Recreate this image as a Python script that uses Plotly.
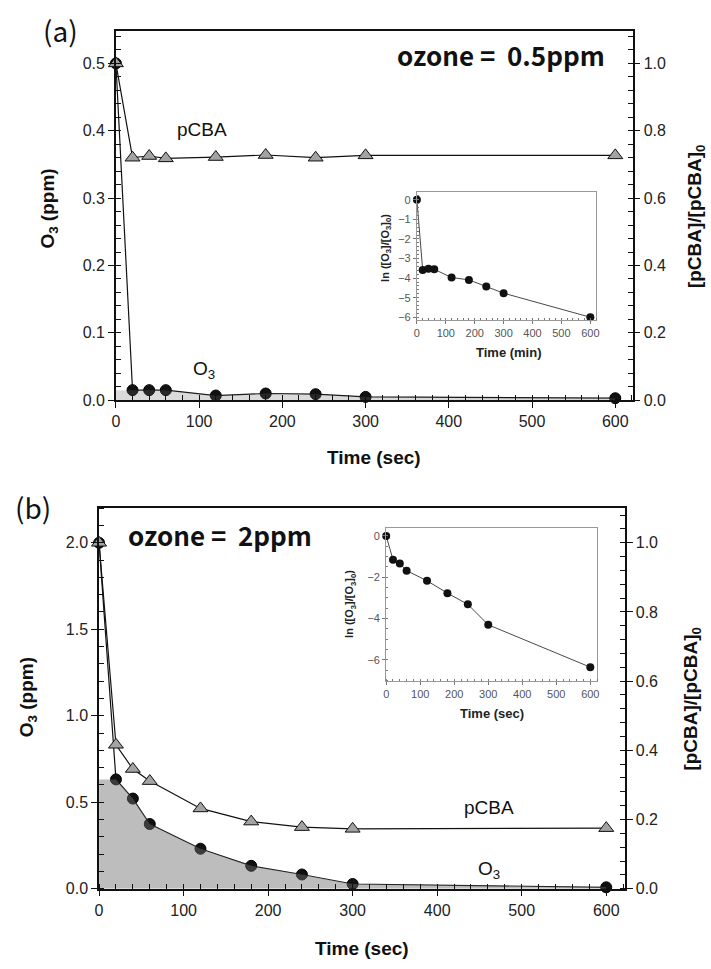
import plotly.graph_objects as go

W, H = 711, 969

# ---------------- data ----------------
times = [0, 20, 40, 60, 120, 180, 240, 300, 600]

a_o3 = [0.5, 0.015, 0.015, 0.015, 0.007, 0.010, 0.009, 0.005, 0.003]
a_pcba = [1.0, 0.72, 0.725, 0.718, 0.722, 0.728, 0.72, 0.727, 0.727]
a_ln = [0, -3.58, -3.52, -3.55, -3.97, -4.09, -4.43, -4.77, -6.0]

b_o3 = [2.0, 0.632, 0.521, 0.374, 0.231, 0.132, 0.082, 0.027, 0.008]
b_pcba = [1.0, 0.416, 0.346, 0.311, 0.232, 0.194, 0.178, 0.173, 0.175]
b_ln = [0, -1.15, -1.34, -1.68, -2.17, -2.77, -3.31, -4.30, -6.35]

x_ticks = [0, 100, 200, 300, 400, 500, 600]


def px(x):
    return x / W


def py(y):
    return 1 - y / H


fig = go.Figure()

TICKFONT = dict(family="Liberation Sans, Arial", size=16, color="#222")
INSET_TICKFONT = dict(family="Liberation Sans, Arial", size=11, color="#555")

tri = dict(symbol="triangle-up", size=13, color="#a3a3a3", line=dict(color="#111", width=1))
circ = dict(symbol="circle", size=11, color="#111", line=dict(color="#000", width=1))
fillcol = "rgba(111,111,111,0.46)"
fillcol_a = "rgba(111,111,111,0.25)"


def main_traces(xa, ya, ya2, o3, pcba, fc):
    # O3 line + markers
    fig.add_trace(go.Scatter(x=times, y=o3, mode="lines+markers", xaxis=xa, yaxis=ya,
                             line=dict(color="#111", width=1.2), marker=circ,
                             cliponaxis=False, showlegend=False))
    # shaded area under O3 (drawn over markers, semi-transparent)
    fx = [times[0]] + times[1:]
    fy = [o3[1]] + o3[1:]
    fig.add_trace(go.Scatter(x=fx, y=fy, mode="none", fill="tozeroy", fillcolor=fc,
                             xaxis=xa, yaxis=ya, showlegend=False))
    # pCBA on right axis
    fig.add_trace(go.Scatter(x=times, y=pcba, mode="lines+markers", xaxis=xa, yaxis=ya2,
                             line=dict(color="#111", width=1.2), marker=tri,
                             cliponaxis=False, showlegend=False))


def inset_trace(xa, ya, ln):
    fig.add_trace(go.Scatter(x=times, y=ln, mode="lines+markers", xaxis=xa, yaxis=ya,
                             line=dict(color="#333", width=0.9),
                             marker=dict(symbol="circle", size=8, color="#111"),
                             cliponaxis=False, showlegend=False))


main_traces("x", "y", "y2", a_o3, a_pcba, fillcol_a)
main_traces("x2", "y3", "y4", b_o3, b_pcba, fillcol)
inset_trace("x3", "y5", a_ln)
inset_trace("x4", "y6", b_ln)

axcommon = dict(showgrid=False, zeroline=False, showline=True, linecolor="#111", linewidth=1.5,
                ticks="outside", ticklen=6, tickwidth=1.2, tickcolor="#111", tickfont=TICKFONT)


def main_axes(xname, yname, y2name, yname_anchor, xdom, ydom, yrange, ydt, yminor, y2range, y2dt, y2minor, yfmt):
    fig.layout[xname] = dict(domain=xdom, range=[0, 621], anchor=yname_anchor, tickvals=x_ticks,
                             mirror=True, minor=dict(dtick=20, ticks="inside", ticklen=5, tickcolor="#111"),
                             **axcommon)
    fig.layout[yname] = dict(domain=ydom, range=yrange, anchor=xname.replace("axis", ""), dtick=ydt,
                             tickformat=yfmt,
                             minor=dict(dtick=yminor, ticks="inside", ticklen=5, tickcolor="#111"),
                             **axcommon)
    fig.layout[y2name] = dict(range=y2range, overlaying=yname.replace("axis", ""), side="right",
                              anchor=xname.replace("axis", ""), dtick=y2dt, tickformat=".1f",
                              minor=dict(dtick=y2minor, ticks="inside", ticklen=5, tickcolor="#111"),
                              **axcommon)


main_axes("xaxis", "yaxis", "yaxis2", "y", [px(113), px(635)], [py(404), py(31)],
          [0, 0.5485], 0.1, 0.02, [0, 1.097], 0.2, 0.04, ".1f")
main_axes("xaxis2", "yaxis3", "yaxis4", "y3", [px(96), px(627)], [py(897), py(513)],
          [0, 2.2], 0.5, 0.1, [0, 1.1], 0.2, 0.04, ".1f")
fig.layout.xaxis2.range = [0, 622]

inset_common = dict(showgrid=False, zeroline=False, showline=True, linecolor="#999", linewidth=1,
                    mirror=True, ticks="outside", ticklen=3, tickcolor="#777", tickfont=INSET_TICKFONT)

fig.layout.xaxis3 = dict(domain=[px(417), px(598)], range=[0, 620], anchor="y5", tickvals=x_ticks,
                         minor=dict(dtick=20, ticks="inside", ticklen=2, tickcolor="#777"), **inset_common)
fig.layout.yaxis5 = dict(domain=[py(323), py(194)], range=[-6.14, 0.39], anchor="x3", dtick=1,
                         minor=dict(dtick=0.2, ticks="inside", ticklen=2, tickcolor="#777"), **inset_common)
fig.layout.xaxis4 = dict(domain=[px(386), px(599)], range=[0, 620], anchor="y6", tickvals=x_ticks,
                         minor=dict(dtick=20, ticks="inside", ticklen=2, tickcolor="#777"), **inset_common)
fig.layout.yaxis6 = dict(domain=[py(687), py(533)], range=[-7.0, 0.38], anchor="x4", dtick=2,
                         minor=dict(dtick=0.5, ticks="inside", ticklen=2, tickcolor="#777"), **inset_common)

ann = []


def text(x, y, s, size, bold=False, family="Liberation Sans, Arial", angle=0, color="#111"):
    ann.append(dict(x=px(x), y=py(y), xref="paper", yref="paper", text=(f"<b>{s}</b>" if bold else s),
                    showarrow=False, xanchor="center", yanchor="middle", textangle=angle,
                    font=dict(family=family, size=size, color=color)))


KR = "Noto Sans CJK KR"
# panel labels
text(57, 30, "(a)", 28, family=KR)
text(29, 512, "(b)", 28, family=KR)
text(502, 55, "ozone =  0.5ppm", 26, bold=True, family=KR)
text(218, 540, "ozone =  2ppm", 26, bold=True, family=KR)

# series labels
text(200, 131, "pCBA", 19)
text(202, 373, "O<sub>3</sub>", 19)
text(490, 815, "pCBA", 19)
text(490, 878, "O<sub>3</sub>", 19)

# axis titles
text(374, 462, "Time (sec)", 19, bold=True)
text(362, 957, "Time (sec)", 19, bold=True)
text(45, 211, "O<sub>3</sub> (ppm)", 19, bold=True, angle=-90)
text(25, 704, "O<sub>3</sub> (ppm)", 19, bold=True, angle=-90)
text(699, 218, "[pCBA]/[pCBA]<sub>0</sub>", 19, bold=True, angle=-90)
text(695, 705, "[pCBA]/[pCBA]<sub>0</sub>", 19, bold=True, angle=-90)

# inset titles
text(510, 356, "Time (min)", 13, bold=True, color="#222")
text(493, 720, "Time (sec)", 13, bold=True, color="#222")
text(385, 250, "ln ([O<sub>3</sub>]/[O<sub>3</sub>]<sub>0</sub>)", 11, bold=True, angle=-90, color="#222")
text(350, 610, "ln ([O<sub>3</sub>]/[O<sub>3</sub>]<sub>0</sub>)", 11, bold=True, angle=-90, color="#222")

fig.update_layout(width=W, height=H, margin=dict(l=0, r=0, t=0, b=0),
                  paper_bgcolor="white", plot_bgcolor="rgba(0,0,0,0)", annotations=ann,
                  showlegend=False)

fig.write_html("out.html")
